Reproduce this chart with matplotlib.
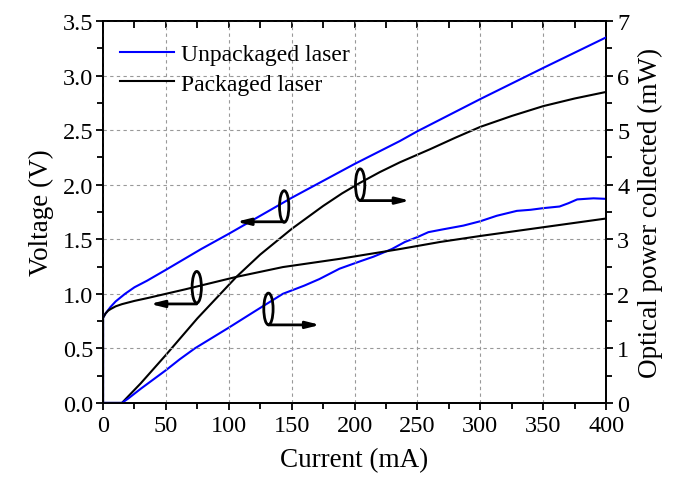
import matplotlib
matplotlib.use("Agg")
import matplotlib.pyplot as plt
from matplotlib.patches import Ellipse
from matplotlib.ticker import MultipleLocator, FormatStrFormatter

plt.rcParams['font.family'] = ['Liberation Serif', 'DejaVu Serif']

# Unpackaged laser - voltage
cur_v_unpk = [0, 0, 2, 4, 6, 10, 17.5, 25, 35, 50, 78, 100, 150, 200, 236, 250, 300, 350, 400]
volt_unpk = [0, 0.78, 0.82, 0.85, 0.88, 0.93, 1.0, 1.06, 1.12, 1.22, 1.41, 1.55, 1.88, 2.19, 2.40, 2.49, 2.785, 3.07, 3.35]

# Packaged laser - voltage
cur_v_pk = [0, 0, 2, 4, 6, 10, 15, 25, 35, 50, 65, 106, 143, 188, 236, 268, 300, 350, 400]
volt_pk = [0, 0.78, 0.82, 0.845, 0.86, 0.885, 0.905, 0.935, 0.96, 1.0, 1.04, 1.155, 1.245, 1.32, 1.41, 1.475, 1.53, 1.61, 1.69]

# Unpackaged laser - optical power
cur_p_unpk = [0, 15, 20, 30, 40, 50, 61, 73, 100, 120, 143, 160, 172, 188, 205, 215, 229.6, 240,
              250, 258.7, 270, 286.5, 300, 313, 329, 340, 350, 363, 370, 377, 390, 400]
pow_unpk = [0, 0, 0.08, 0.26, 0.43, 0.6, 0.8, 1.0, 1.38, 1.67, 2.0, 2.15, 2.27, 2.46, 2.6, 2.68, 2.82, 2.95,
            3.04, 3.13, 3.18, 3.25, 3.33, 3.43, 3.52, 3.54, 3.57, 3.60, 3.66, 3.73, 3.75, 3.74]

# Packaged laser - optical power
cur_p_pk = [0, 15, 30, 50, 75, 106, 125, 150, 175, 190, 204, 220, 236, 260, 280, 300, 325, 350, 375, 400]
pow_pk = [0, 0, 0.36, 0.88, 1.55, 2.31, 2.72, 3.19, 3.61, 3.84, 4.03, 4.23, 4.41, 4.65, 4.86, 5.06, 5.26, 5.44, 5.58, 5.70]

series_labels = ['Unpackaged laser', 'Packaged laser']
x_label = 'Current (mA)'
y_label_left = 'Voltage (V)'
y_label_right = 'Optical power collected (mW)'

# annotation markers: (ellipse center current, center voltage, arrow end current, arrow voltage)
marker_cur = [144, 204.4, 74.5, 131.5]
marker_volt = [1.80, 2.0, 1.06, 0.861]
arrow_end_cur = [106, 244, 37.4, 172.6]
arrow_volt = [1.66, 1.854, 0.907, 0.715]

fig = plt.figure(figsize=(6.78, 4.89), dpi=100)
ax = fig.add_axes([0.152, 0.174, 0.742, 0.781])
ax2 = ax.twinx()

BLUE = '#0000ff'
l1, = ax.plot(cur_v_unpk, volt_unpk, color=BLUE, lw=1.5, label=series_labels[0], zorder=3)
l2, = ax.plot(cur_v_pk, volt_pk, color='black', lw=1.5, label=series_labels[1], zorder=3)
ax2.plot(cur_p_pk, pow_pk, color='black', lw=1.5, zorder=3)
ax2.plot(cur_p_unpk, pow_unpk, color=BLUE, lw=1.5, zorder=3)

ax.set_xlim(0, 400)
ax.set_ylim(0, 3.5)
ax2.set_ylim(0, 7)

ax.xaxis.set_major_locator(MultipleLocator(50))
ax.xaxis.set_minor_locator(MultipleLocator(25))
ax.yaxis.set_major_locator(MultipleLocator(0.5))
ax.yaxis.set_minor_locator(MultipleLocator(0.25))
ax2.yaxis.set_major_locator(MultipleLocator(1))
ax2.yaxis.set_minor_locator(MultipleLocator(0.5))
ax.yaxis.set_major_formatter(FormatStrFormatter('%.1f'))

ax.grid(True, which='major', linestyle=(0, (3, 3)), color='#999999', lw=0.8)

fs_tick = 17.5
ax.tick_params(axis='x', which='both', direction='out', top=False, labelsize=fs_tick, width=1.3, pad=4)
ax.tick_params(axis='x', which='major', length=5)
ax.tick_params(axis='x', which='minor', length=4)
ax.tick_params(axis='y', which='both', direction='out', labelsize=fs_tick, width=1.3, pad=2)
ax.tick_params(axis='y', which='major', length=5)
ax.tick_params(axis='y', which='minor', length=4)
ax2.tick_params(axis='y', which='both', direction='out', labelsize=fs_tick, width=1.3, pad=3)
ax2.tick_params(axis='y', which='major', length=5)
ax2.tick_params(axis='y', which='minor', length=4)

# top ticks point inward
sec = ax.secondary_xaxis('top')
sec.tick_params(axis='x', which='both', direction='in', length=5, width=1.3, labeltop=False)
sec.xaxis.set_major_locator(MultipleLocator(25))
sec.set_xticklabels([])
for sp in list(ax.spines.values()) + list(ax2.spines.values()) + list(sec.spines.values()):
    sp.set_linewidth(1.3)

ax.set_xlabel(x_label, fontsize=19.5, labelpad=8)
ax.set_ylabel(y_label_left, fontsize=19.5, labelpad=6)
ax2.set_ylabel(y_label_right, fontsize=19.5, labelpad=6)

leg = ax.legend(handles=[l1, l2], loc='upper left', frameon=False, fontsize=17,
                handlelength=2.3, handletextpad=0.3, labelspacing=0.35,
                borderaxespad=0.3, bbox_to_anchor=(0.0, 0.985))

# annotations: ellipses with arrows
ell_w = 7.4
ell_h = 0.29
for cx, cy, ex, ay in zip(marker_cur, marker_volt, arrow_end_cur, arrow_volt):
    e = Ellipse((cx, cy), ell_w, ell_h, fill=False, edgecolor='black', lw=2, zorder=6)
    ax.add_patch(e)
    ax.annotate('', xy=(ex, ay), xytext=(cx, ay), zorder=6,
                arrowprops=dict(arrowstyle='-|>,head_length=0.8,head_width=0.2',
                                lw=2, color='black', shrinkA=0, shrinkB=0))

ax.set_zorder(ax2.get_zorder() + 1)
ax.patch.set_visible(False)

fig.savefig('out.png', dpi=100)
